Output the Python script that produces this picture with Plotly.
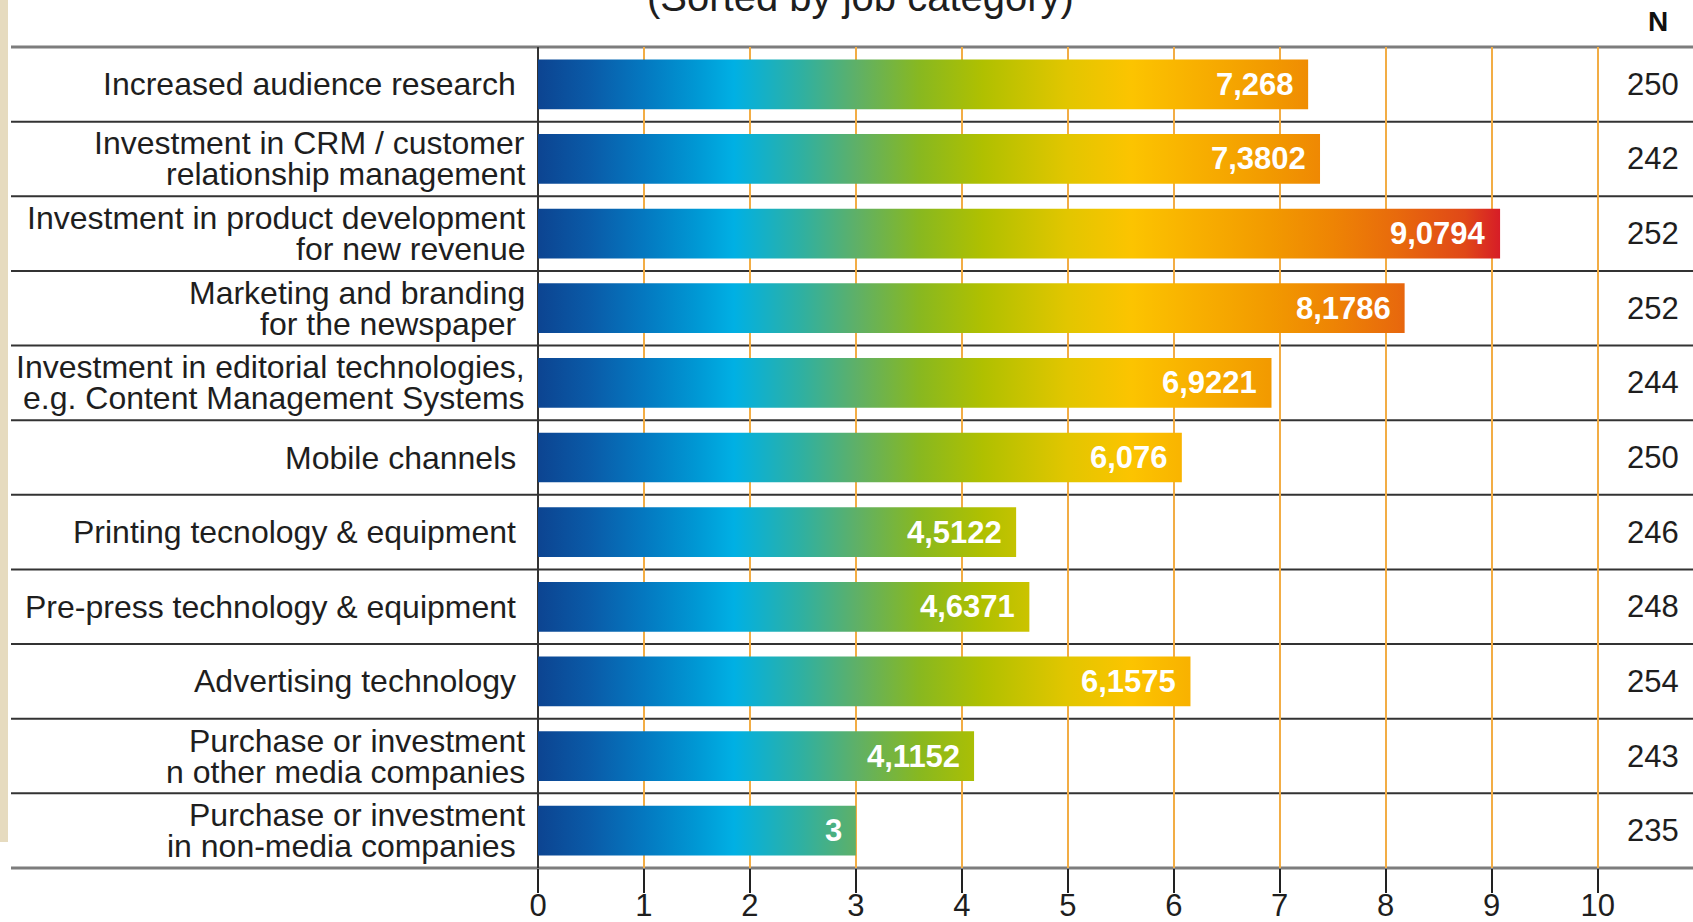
import plotly.graph_objects as go

# ---- data -------------------------------------------------------------
categories = [
    "Increased audience research\u00a0",
    "Investment in CRM / customer<br>relationship management",
    "Investment in product development<br>for new revenue",
    "Marketing and branding<br>for the newspaper\u00a0",
    "Investment in editorial technologies,<br>e.g. Content Management Systems",
    "Mobile channels\u00a0",
    "Printing tecnology & equipment\u00a0",
    "Pre-press technology & equipment\u00a0",
    "Advertising technology\u00a0",
    "Purchase or investment<br>n other media companies",
    "Purchase or investment<br>in non-media companies\u00a0",
]
values = [7.268, 7.3802, 9.0794, 8.1786, 6.9221, 6.076, 4.5122, 4.6371, 6.1575, 4.1152, 3]
n_counts = [250, 242, 252, 252, 244, 250, 246, 248, 254, 243, 235]
x_ticks = list(range(0, 11))
title_text = "(Sorted by job category)"
n_header = "N"

# ---- layout constants -------------------------------------------------
W, H = 1693, 922
ML, MR, MT, MB = 538, 0, 47, 54
PW, PH = W - ML - MR, H - MT - MB
X_MAX = 10.9            # axis extends past 10 to hold the N column
N_X = 10.79             # right edge of the N column, in axis units
BAR_HALF = 0.333        # half bar thickness, in row units
LINE_GAP = 31           # pixel distance between label lines
FONT = "Liberation Sans, Arial, Helvetica, sans-serif"
TEXT_COLOR = "#1e1e1e"


def px_x(px):
    return (px - ML) / PW


def px_y(py):
    return 1 - (py - MT) / PH


# blue -> cyan -> green -> yellow -> orange -> red along the value axis
GRAD_STOP = 9.1
grad_points = [
    (0.0, "#0c4491"), (0.5, "#0a5ba8"), (1.0, "#0478c0"), (1.5, "#0098d4"),
    (1.85, "#00b0e4"), (2.5, "#30b0a0"), (3.0, "#5eb068"), (3.6, "#88b820"),
    (4.2, "#b0c000"), (5.0, "#e2c600"), (5.6, "#fcc400"), (6.2, "#f8b000"),
    (6.9, "#f29a00"), (7.5, "#ee8404"), (8.1, "#e86a0c"), (8.75, "#e04818"),
    (9.1, "#d61a28"),
]
colorscale = [[p / GRAD_STOP, c] for p, c in grad_points]

fig = go.Figure()

# bars as filled rectangles carrying a horizontal gradient
for i, v in enumerate(values):
    fig.add_trace(go.Scatter(
        x=[0, v, v, 0, 0],
        y=[i - BAR_HALF, i - BAR_HALF, i + BAR_HALF, i + BAR_HALF, i - BAR_HALF],
        mode="lines",
        fill="toself",
        line=dict(width=0),
        fillgradient=dict(type="horizontal", start=0, stop=GRAD_STOP,
                          colorscale=colorscale),
        hoverinfo="skip",
        showlegend=False,
    ))

annotations = []

# value labels inside the bar ends
for i, v in enumerate(values):
    label = f"{v:g}".replace(".", ",")
    annotations.append(dict(
        x=v, y=i, xref="x", yref="y", text=label, showarrow=False,
        xanchor="right", yanchor="middle", xshift=-12,
        font=dict(family=FONT, size=31, color="#ffffff", weight="bold"),
    ))

# category labels, one annotation per line for tight line spacing
for i, cat in enumerate(categories):
    lines = cat.split("<br>")
    n = len(lines)
    for j, line in enumerate(lines):
        off = (j - (n - 1) / 2) * LINE_GAP
        annotations.append(dict(
            x=0, y=i, xref="x", yref="y", text=line, showarrow=False,
            xanchor="right", yanchor="middle", xshift=-11, yshift=-off,
            font=dict(family=FONT, size=32, color=TEXT_COLOR),
        ))

# N column
for i, n in enumerate(n_counts):
    annotations.append(dict(
        x=N_X, y=i, xref="x", yref="y", text=str(n), showarrow=False,
        xanchor="right", yanchor="middle",
        font=dict(family=FONT, size=31, color=TEXT_COLOR),
    ))
annotations.append(dict(
    x=(1658 - ML) / (PW / X_MAX), y=px_y(22), xref="x", yref="paper",
    text=n_header, showarrow=False, xanchor="center", yanchor="middle",
    font=dict(family=FONT, size=28, color="#111111", weight="bold"),
))

# heading, partly above the top edge
annotations.append(dict(
    x=px_x(860), y=px_y(-3), xref="paper", yref="paper", text=title_text,
    showarrow=False, xanchor="center", yanchor="middle",
    font=dict(family=FONT, size=40, color=TEXT_COLOR),
))

shapes = []
# pale strip down the left edge
shapes.append(dict(type="rect", xref="paper", yref="paper",
                   x0=px_x(0), x1=px_x(8), y0=px_y(842), y1=px_y(-2),
                   fillcolor="#e6dbbf", line=dict(width=0), layer="below"))
# row separators
for k in range(1, len(categories)):
    shapes.append(dict(type="line", xref="paper", yref="y",
                       x0=px_x(11), x1=1, y0=k - 0.5, y1=k - 0.5,
                       line=dict(color="#333333", width=2), layer="below"))
for yy in (0, 1):
    shapes.append(dict(type="line", xref="paper", yref="paper",
                       x0=px_x(11), x1=1, y0=yy, y1=yy,
                       line=dict(color="#7d7d7d", width=3), layer="below"))

fig.update_layout(
    width=W, height=H, autosize=False,
    margin=dict(l=ML, r=MR, t=MT, b=MB, pad=0, autoexpand=False),
    paper_bgcolor="white", plot_bgcolor="white",
    showlegend=False, hovermode=False,
    annotations=annotations, shapes=shapes,
    xaxis=dict(
        range=[0, X_MAX], tickvals=x_ticks, ticktext=[str(t) for t in x_ticks],
        showgrid=True, gridcolor="#f2ad45", gridwidth=1.5,
        zeroline=True, zerolinecolor="#333333", zerolinewidth=1.5,
        showline=False, ticks="outside", ticklen=24, tickwidth=1.5,
        tickcolor="#222222", automargin=False, ticklabelstandoff=-14,
        tickfont=dict(family=FONT, size=31, color=TEXT_COLOR),
        fixedrange=True,
    ),
    yaxis=dict(
        range=[len(categories) - 0.5, -0.5], showticklabels=False,
        showgrid=False, zeroline=False, showline=False, ticks="",
        automargin=False, fixedrange=True,
    ),
)

fig.write_html("out.html", config={"displayModeBar": False})
